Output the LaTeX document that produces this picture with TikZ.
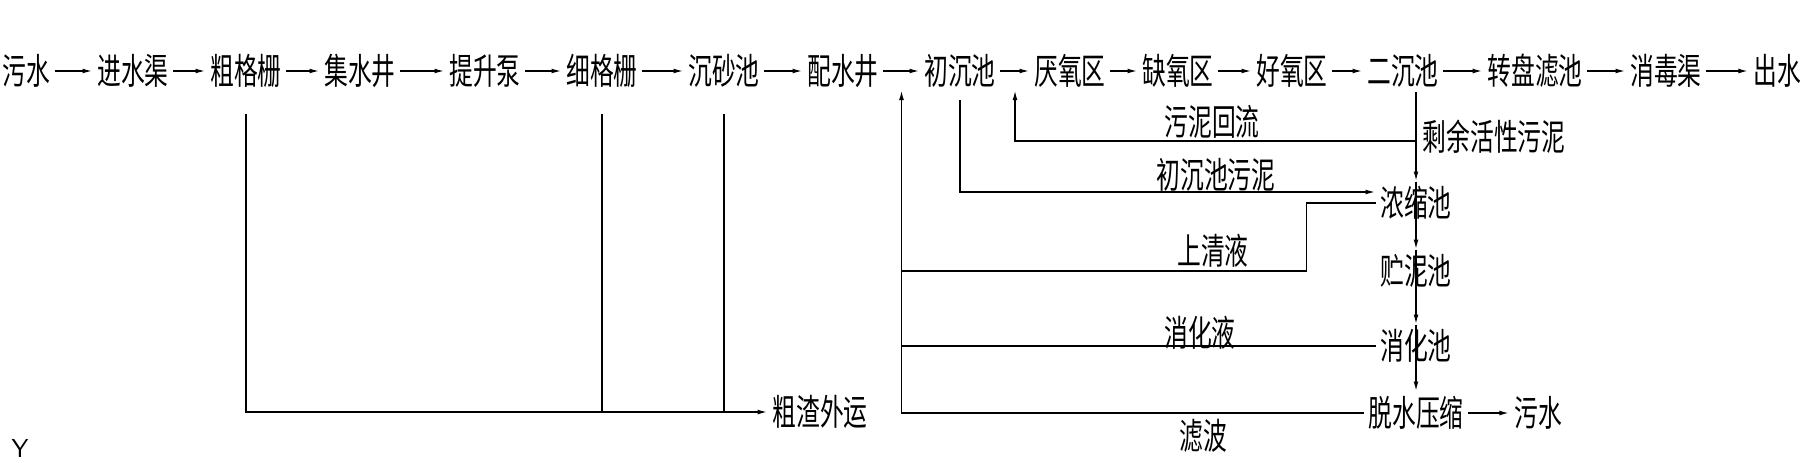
\documentclass[tikz,border=0pt]{standalone}
\usepackage{fontspec}
\newfontfamily\cjk[FakeStretch=0.66]{Noto Sans CJK SC}
\usetikzlibrary{calc}
\usetikzlibrary{arrows.meta}

\begin{document}
\begin{tikzpicture}[x=.5pt, y=-.5pt, line width=.8pt, >={Latex[length=5pt,width=2.4pt]},
unit/.style={inner sep=2pt, font=\cjk\fontsize{18}{18}\selectfont},
tag/.style={inner sep=1pt, font=\cjk\fontsize{18}{18}\selectfont}]
\useasboundingbox (0,0) rectangle (1808,462);
\foreach \x/\t [count=\i] in {26/污水,133/进水渠,246/粗格栅,360/集水井,485/提升泵,602/细格栅,724/沉砂池,843/配水井,960/初沉池,1070/厌氧区,1178/缺氧区,1292/好氧区,1403/二沉池,1535/转盘滤池,1666/消毒渠,1777/出水}
 \node[unit] (t\i) at (\x,71) {\t};
\foreach \i [evaluate=\i as \j using int(\i+1)] in {1,...,15}
 \draw[->] (t\i) -- (t\j);
\node[unit] (n1) at (1416,203) {浓缩池};
\node[unit] (n2) at (1416,271) {贮泥池};
\node[unit] (n3) at (1416,346) {消化池};
\node[unit] (n4) at (1416,413) {脱水压缩};
\node[unit] (w2) at (1538,413) {污水};
\node[unit] (zw) at (820,412) {粗渣外运};
\coordinate (m1) at ($(t8.east)!.5!(t9.west)$);
\coordinate (m2) at ($(t9.east)!.5!(t10.west)$);
\coordinate (hl) at (1416,141);
\draw[->] (t13.south -| n1) -- (n1.north);
\draw[->] (n1.north) -- (n2.north);
\draw[->] (n2.north) -- (n3.north);
\draw[->] (n3.north) -- (n4.north);
\draw[->] (n4) -- (w2);
\draw[->, shorten >=9.5pt] (hl) -| (m2);
\draw[->, shorten <=4pt] (t9.south) |- ([yshift=5.5pt]n1.west);
\draw (n1.west) -- ++(-69,0) |- (n2 -| m1);
\draw (n3.west) -- (n3 -| m1);
\draw[->, shorten >=9.5pt] (n4.west) -| (m1);
\draw[->, shorten <=11pt] (t3.south) |- (zw.west);
\draw[shorten <=11pt] (t6.south) -- (t6.south |- zw);
\draw[shorten <=11pt] (t7.south) -- (t7.south |- zw);
\node[tag] (l1) at (1212,122) {污泥回流};
\node[tag, anchor=west] (l2) at (1420,137) {剩余活性污泥};
\node[tag] (l3) at (1216,175) {初沉池污泥};
\node[tag] (l4) at (1213,251) {上清液};
\node[tag] (l5) at (1200,333) {消化液};
\node[tag] (l6) at (1203,436) {滤波};
\node[font=\sffamily\fontsize{13}{13}\selectfont, inner sep=0pt] (ax) at (20,448) {Y};
\end{tikzpicture}
\end{document}
